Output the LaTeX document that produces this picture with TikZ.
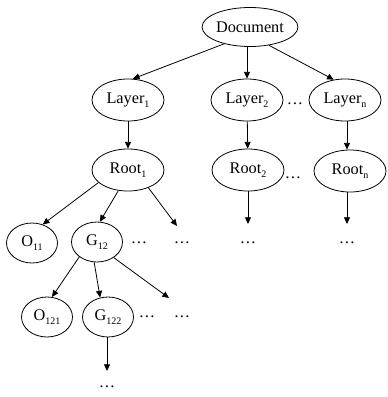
\documentclass[tikz,border=0pt]{standalone}
\usepackage{fontspec}
\setmainfont{Liberation Serif}
\usetikzlibrary{arrows.meta,shapes.geometric}
\newcommand{\lsub}[1]{\raisebox{-0.55ex}{\fontsize{7.5pt}{8pt}\selectfont #1}}
\begin{document}
\begin{tikzpicture}[x=0.75pt,y=-0.75pt,
  font=\fontsize{12.2pt}{14pt}\selectfont,
  el/.style={draw, ellipse, line width=0.6pt, inner sep=0pt},
  docbox/.style={el, minimum width=67.5pt, minimum height=29.25pt},
  midbox/.style={el, minimum width=54pt, minimum height=31.5pt},
  leafbox/.style={el, minimum width=38.25pt, minimum height=30pt},
  dotnode/.style={inner sep=1pt},
  arr/.style={-{Triangle[length=5pt,width=4.5pt]}, line width=0.6pt}]
\useasboundingbox (0,0) rectangle (387,397);
% nodes
\node[docbox] (doc) at (250,27) {Document};
\node[midbox] (l1) at (128,100) {Layer\lsub{1}};
\node[midbox] (l2) at (247,100) {Layer\lsub{2}};
\node[midbox] (ln) at (345,100) {Layer\lsub{n}};
\node[midbox] (r1) at (128,170) {Root\lsub{1}};
\node[midbox] (r2) at (248,170) {Root\lsub{2}};
\node[midbox] (rn) at (350,171) {Root\lsub{n}};
\node[leafbox] (o11) at (32,243) {O\lsub{11}};
\node[leafbox] (g12) at (97,242) {G\lsub{12}};
\node[leafbox] (o121) at (47,317) {O\lsub{121}};
\node[leafbox] (g122) at (108,317) {G\lsub{122}};
% dots
\node[dotnode] (dl) at (295,104) {\ldots};
\node[dotnode] (dr) at (293,178) {\ldots};
\node[dotnode] (d1) at (139,243) {\ldots};
\node[dotnode] (d2) at (182,243) {\ldots};
\node[dotnode] (d3) at (248,243) {\ldots};
\node[dotnode] (d4) at (347,243) {\ldots};
\node[dotnode] (d5) at (147,317) {\ldots};
\node[dotnode] (d6) at (182,317) {\ldots};
\node[dotnode] (d7) at (107,387) {\ldots};
% free arrow ends
\coordinate (e1) at (177,226);
\coordinate (e2) at (248,224);
\coordinate (e3) at (347,224);
\coordinate (e4) at (169,298);
\coordinate (e5) at (107,371);
% edges
\draw[arr] (doc.213) -- (l1.77);
\draw[arr] (doc.south -| l2) -- (l2);
\draw[arr] (doc.316) -- (ln.119);
\draw[arr] (l1) -- (r1);
\draw[arr] (l2) -- (r2);
\draw[arr] (ln.south -| e3) -- (e3 |- rn.north);
\draw[arr] (r1.203) -- (o11.60);
\draw[arr] (r1.245) -- (g12.82);
\draw[arr] (r1.319) -- (e1);
\draw[arr] (r2) -- (e2);
\draw[arr] (rn.south -| e3) -- (e3);
\draw[arr] (g12.220) -- (o121.76);
\draw[arr] (g12.262) -- (g122.112);
\draw[arr] (g12.317) -- (e4);
\draw[arr] (g122.south -| e5) -- (e5);
\end{tikzpicture}
\end{document}
